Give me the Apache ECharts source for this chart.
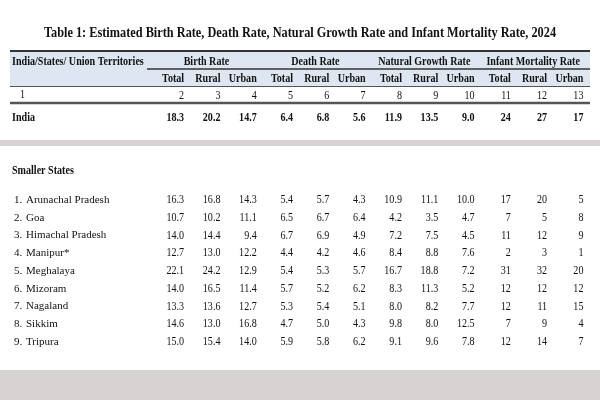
<!DOCTYPE html>
<html>
<head>
<meta charset="utf-8">
<script src="https://cdn.jsdelivr.net/npm/echarts@6/dist/echarts.min.js"></script>
<style>html,body{margin:0;padding:0;background:#fff}#main{width:600px;height:400px}</style>
</head>
<body>
<div id="main"></div>
<script>
(() => {
  const title = 'Table 1: Estimated Birth Rate, Death Rate, Natural Growth Rate and Infant Mortality Rate, 2024';
  const groups = ['Birth Rate', 'Death Rate', 'Natural Growth Rate', 'Infant Mortality Rate'];
  const subHeads = ['Total', 'Rural', 'Urban'];
  const colNumbers = ['2', '3', '4', '5', '6', '7', '8', '9', '10', '11', '12', '13'];
  const indiaValues = ['18.3', '20.2', '14.7', '6.4', '6.8', '5.6', '11.9', '13.5', '9.0', '24', '27', '17'];
  const states = ['Arunachal Pradesh', 'Goa', 'Himachal Pradesh', 'Manipur*', 'Meghalaya', 'Mizoram', 'Nagaland', 'Sikkim', 'Tripura'];
  const stateValues = [
    ['16.3', '16.8', '14.3', '5.4', '5.7', '4.3', '10.9', '11.1', '10.0', '17', '20', '5'],
    ['10.7', '10.2', '11.1', '6.5', '6.7', '6.4', '4.2', '3.5', '4.7', '7', '5', '8'],
    ['14.0', '14.4', '9.4', '6.7', '6.9', '4.9', '7.2', '7.5', '4.5', '11', '12', '9'],
    ['12.7', '13.0', '12.2', '4.4', '4.2', '4.6', '8.4', '8.8', '7.6', '2', '3', '1'],
    ['22.1', '24.2', '12.9', '5.4', '5.3', '5.7', '16.7', '18.8', '7.2', '31', '32', '20'],
    ['14.0', '16.5', '11.4', '5.7', '5.2', '6.2', '8.3', '11.3', '5.2', '12', '12', '12'],
    ['13.3', '13.6', '12.7', '5.3', '5.4', '5.1', '8.0', '8.2', '7.7', '12', '11', '15'],
    ['14.6', '13.0', '16.8', '4.7', '5.0', '4.3', '9.8', '8.0', '12.5', '7', '9', '4'],
    ['15.0', '15.4', '14.0', '5.9', '5.8', '6.2', '9.1', '9.6', '7.8', '12', '14', '7']
  ];

  const FONT = '"Liberation Serif", serif';
  const cols = colNumbers.map((c, i) => 'c' + i);
  const SX = 0.84;

  // text is kept as strings (e.g. "9.0"), so look it up by dataIndex
  const cellItem = (data, boldFn) => (params, api) => {
    const d = data[params.dataIndex];
    const p = api.coord([d[0], d[1]]);
    return {
      type: 'text',
      x: p[0] + 14, y: p[1],
      scaleX: SX,
      style: {
        text: d[2], align: 'right', verticalAlign: 'middle',
        font: (boldFn(d) ? 'bold ' : '') + '12px ' + FONT, fill: '#111'
      }
    };
  };

  const headerRows = ['subs', 'nums'];
  const headerData = [];
  colNumbers.forEach((n, i) => {
    headerData.push([i, 0, subHeads[i % 3]]);
    headerData.push([i, 1, n]);
  });
  const indiaData = indiaValues.map((v, i) => [i, 0, v]);
  const stateData = [];
  stateValues.forEach((row, r) => row.forEach((v, i) => stateData.push([i, r, v])));

  const xAx = (gi) => ({ type: 'category', data: cols, gridIndex: gi, show: false });

  const chart = echarts.init(document.getElementById('main'));
  const grids = [
    { left: 152, right: 12.4, top: 70, height: 34 },
    { left: 152, right: 12.4, top: 110, height: 16 },
    { left: 152, right: 12.4, top: 191.1, height: 159.75 }
  ];

  const txt = (x, y, text, bold, extra) => Object.assign({
    type: 'text', x: x, y: y, scaleX: SX,
    style: Object.assign({ text: text, verticalAlign: 'middle', font: (bold ? 'bold ' : '') + '12px ' + FONT, fill: '#111' }, extra || {})
  });

  const lines = [
    { type: 'rect', shape: { x: 0, y: 140, width: 600, height: 6 }, style: { fill: '#d8d3d3' } },
    { type: 'rect', shape: { x: 0, y: 370, width: 600, height: 30 }, style: { fill: '#d8d3d3' } },
    { type: 'rect', shape: { x: 10, y: 51, width: 580, height: 35 }, style: { fill: '#dde6f1' } },
    { type: 'line', shape: { x1: 10, y1: 51, x2: 590, y2: 51 }, style: { stroke: '#333', lineWidth: 2 } },
    { type: 'line', shape: { x1: 147, y1: 69, x2: 590, y2: 69 }, style: { stroke: '#333', lineWidth: 1.5 } },
    { type: 'line', shape: { x1: 10, y1: 86.5, x2: 590, y2: 86.5 }, style: { stroke: '#555', lineWidth: 1 } },
    { type: 'line', shape: { x1: 10, y1: 103, x2: 590, y2: 103 }, style: { stroke: '#555', lineWidth: 2.5 } },
    {
      type: 'text', x: 300, y: 33, scaleX: 0.82,
      style: { text: title, align: 'center', verticalAlign: 'middle', font: 'bold 15px ' + FONT, fill: '#111' }
    },
    txt(12, 62, 'India/States/ Union Territories', true),
    txt(20, 95, '1', false),
    txt(12, 118, 'India', true),
    txt(12, 171, 'Smaller States', true)
  ];

  chart.setOption({
    animation: false,
    grid: grids,
    xAxis: [xAx(0), xAx(1), xAx(2)],
    yAxis: [
      { type: 'category', data: headerRows, gridIndex: 0, inverse: true, show: false },
      { type: 'category', data: ['India'], gridIndex: 1, show: false },
      {
        type: 'category', data: states, gridIndex: 2, inverse: true,
        axisLine: { show: false }, axisTick: { show: false },
        axisLabel: {
          align: 'left', margin: 138, color: '#111',
          formatter: (v, i) => '{n|' + (i + 1) + '.}{s|' + v + '}',
          rich: { n: { width: 12, fontFamily: FONT, fontSize: 11 }, s: { fontFamily: FONT, fontSize: 11 } }
        }
      }
    ],
    series: [
      { type: 'custom', xAxisIndex: 0, yAxisIndex: 0, data: headerData,
        renderItem: cellItem(headerData, d => d[1] === 0) },
      { type: 'custom', xAxisIndex: 1, yAxisIndex: 1, data: indiaData,
        renderItem: cellItem(indiaData, () => true) },
      { type: 'custom', xAxisIndex: 2, yAxisIndex: 2, data: stateData,
        renderItem: cellItem(stateData, () => false) }
    ]
  });

  // group headings centred over their three columns
  const groupTexts = groups.map((g, k) => {
    const p = chart.convertToPixel({ gridIndex: 0 }, [cols[k * 3 + 1], 'nums']);
    return txt(p[0], 62, g, true, { align: 'center' });
  });
  chart.setOption({ graphic: lines.concat(groupTexts) });
})();
</script>
</body>
</html>
